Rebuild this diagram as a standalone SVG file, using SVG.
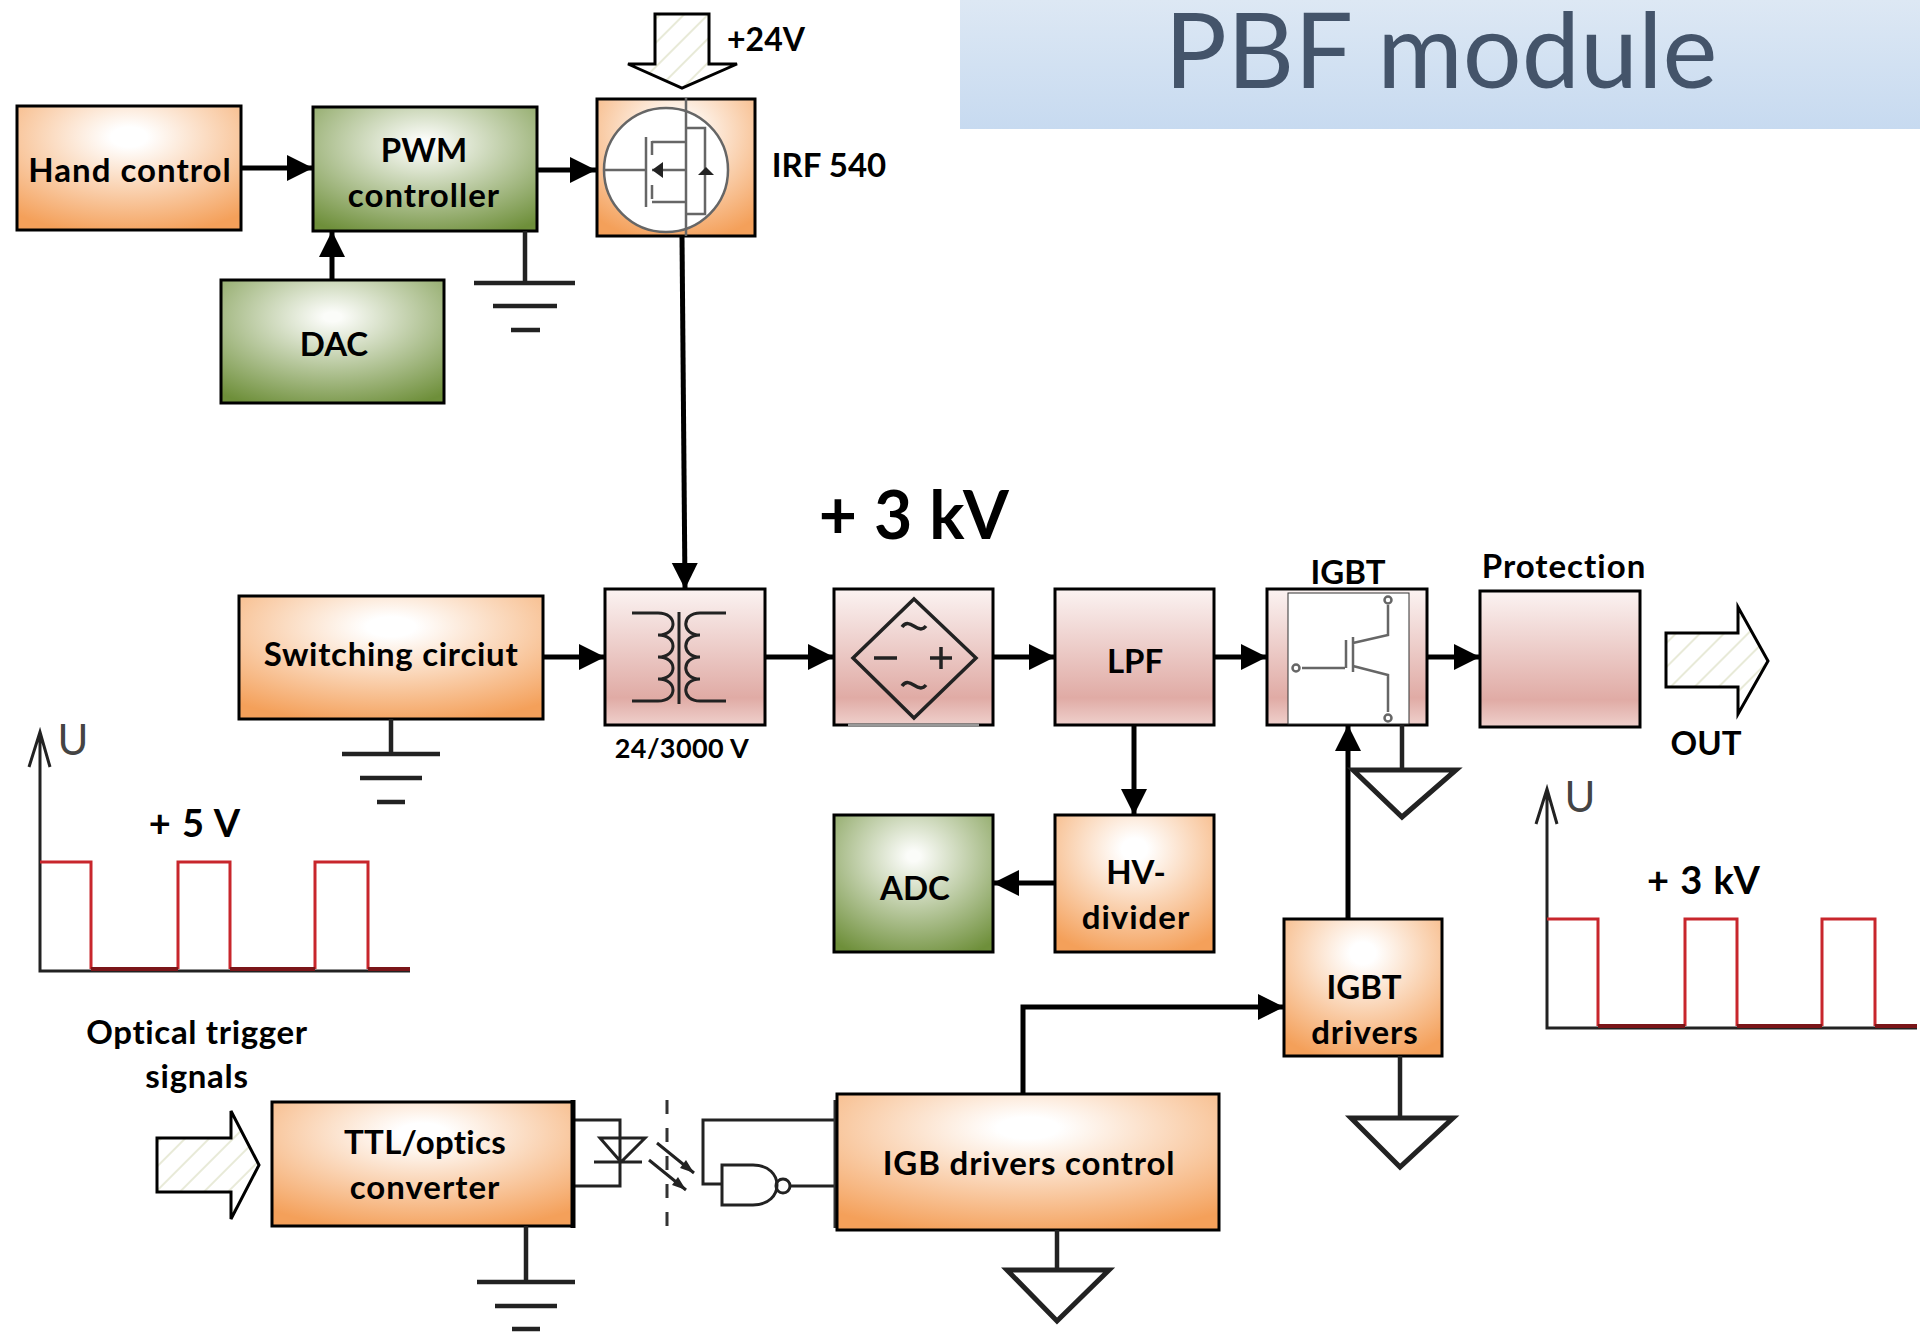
<svg xmlns="http://www.w3.org/2000/svg" width="1920" height="1335" viewBox="0 0 1920 1335">
<style>
text{font-family:"Lato","Carlito","Liberation Sans",sans-serif;font-weight:700;fill:#000;text-anchor:middle}
.t{font-size:33px}
.l{letter-spacing:1px}
.box{stroke:#000;stroke-width:3}
.or{fill:url(#or)}.gr{fill:url(#gr)}.re{fill:url(#re)}
.c{fill:none;stroke:#000;stroke-width:5}
.ca{fill:none;stroke:#000;stroke-width:5;marker-end:url(#ah)}
.g{fill:none;stroke:#222;stroke-width:4.5}
.tri{fill:#fff;stroke:#222;stroke-width:5}
.ic{fill:none;stroke:#666;stroke-width:2.5}
.bk{fill:none;stroke:#222;stroke-width:3}
.big{fill:url(#ht);stroke:#000;stroke-width:3}
.ax{fill:none;stroke:#222;stroke-width:3}
.wv{fill:none;stroke:#c8262c;stroke-width:3}
.lo{fill:none;stroke:#7a1518;stroke-width:4}
.u{font-family:"Lato",sans-serif;font-weight:400;font-size:42px;fill:#444}
</style>
<defs>
<radialGradient id="or" cx=".5" cy=".25" r=".8"><stop offset=".1" stop-color="#fff"/><stop offset="1" stop-color="#f4a05a"/></radialGradient>
<radialGradient id="gr" cx=".5" cy=".3" r=".8"><stop offset=".05" stop-color="#fbfcf9"/><stop offset="1" stop-color="#6e8f3a"/></radialGradient>
<linearGradient id="re" x1="0" y1="0" x2="0" y2="1"><stop offset="0" stop-color="#fbf3f2"/><stop offset=".8" stop-color="#e0aba5"/><stop offset="1" stop-color="#efd0cc"/></linearGradient>
<linearGradient id="ti" x1="0" y1="0" x2="0" y2="1"><stop offset="0" stop-color="#dde8f4"/><stop offset="1" stop-color="#c7daf0"/></linearGradient>
<pattern id="ht" width="17" height="17" patternUnits="userSpaceOnUse" patternTransform="rotate(45)"><rect width="17" height="17" fill="#fff"/><rect width="2" height="17" fill="#e8ead8"/></pattern>
<marker id="ah" markerUnits="userSpaceOnUse" markerWidth="27" markerHeight="27" refX="26" refY="13" orient="auto"><path d="M0 0L26 13L0 26z" fill="#000"/></marker>
</defs>

<g id="title"><rect x="960" y="0" width="960" height="129" fill="url(#ti)"/><text x="1441" y="88" style="font-size:104px;font-weight:400;fill:#44546a">PBF module</text></g>

<g id="connectors">
<path class="ca" d="M241 168H313"/>
<path class="ca" d="M537 170H596"/>
<path class="ca" d="M332 280V231"/>
<path class="ca" d="M682 236L685 589"/>
<path class="ca" d="M543 657H605"/>
<path class="ca" d="M765 657H834"/>
<path class="ca" d="M993 657H1055"/>
<path class="ca" d="M1214 657H1267"/>
<path class="ca" d="M1427 657H1480"/>
<path class="ca" d="M1134 725V815"/>
<path class="ca" d="M1055 883H993"/>
<path class="ca" d="M1348 919V725"/>
<path class="ca" d="M1023 1094V1007H1284"/>
</g>

<g id="hand-control"><rect class="box or" x="17" y="106" width="224" height="124"/><text class="t l" x="130" y="182">Hand control</text></g>
<g id="pwm"><rect class="box gr" x="313" y="107" width="224" height="124"/><text class="t" x="424" y="162">PWM</text><text class="t l" x="424" y="207">controller</text></g>
<g id="dac"><rect class="box gr" x="221" y="280" width="223" height="123"/><text class="t" x="334" y="356">DAC</text></g>
<g id="irf540"><rect class="box or" x="597" y="99" width="158" height="137"/>
<circle class="ic" cx="666" cy="170" r="62" style="fill:#fff"/>
<path class="ic" d="M604 170H646M646 137V207M652 141V155M652 185V199M652 142H686M652 170H686M652 202H686M686 98V236M686 128H705V214H686"/>
<path d="M652 170L663 162V178zM698 175H714L706 167z" fill="#222"/></g>
<g id="plus24"><path class="big" d="M655 14H709V64H737L682 88L628 64H655z"/><text x="766" y="51" style="font-size:32px">+24V</text></g>
<text x="829" y="177" class="t">IRF 540</text>
<g id="gnd1"><path class="g" d="M525 231V283M474 283H575M493 306H557M511 330H540"/></g>
<text x="914" y="539" style="font-size:66px;letter-spacing:.5px">+ 3 kV</text>

<g id="switching"><rect class="box or" x="239" y="596" width="304" height="123"/><text class="t" x="391" y="666" style="letter-spacing:.7px">Switching circiut</text></g>
<g id="gnd2"><path class="g" d="M391 719V754M342 754H440M360 778H422M377 802H405"/></g>
<g id="transformer"><rect class="box re" x="605" y="589" width="160" height="136"/>
<path class="bk" d="M632 613H658C678 613 678 635 658 635C678 635 678 657 658 657C678 657 678 679 658 679C678 679 678 701 658 701H632M679 612V704M726 613H700C681 613 681 635 700 635C681 635 681 657 700 657C681 657 681 679 700 679C681 679 681 701 700 701H726"/></g>
<text x="682" y="758" style="font-size:27px;letter-spacing:.4px">24/3000 V</text>
<g id="rectifier"><rect class="box re" x="834" y="589" width="159" height="136"/><path d="M848 725H979" stroke="#999" stroke-width="3"/>
<path d="M914 599L976 658L914 718L853 658zM874 658H897M930 658H952M941 647V669M902 627C910 616 918 636 926 626M902 686C910 675 918 695 926 685" fill="none" stroke="#222" stroke-width="3.5"/></g>
<g id="lpf"><rect class="box re" x="1055" y="589" width="159" height="136"/><text class="t" x="1135" y="673">LPF</text></g>
<g id="igbt"><rect class="box re" x="1267" y="589" width="160" height="136"/><rect x="1288" y="593" width="121" height="131" fill="#fff" stroke="#333" stroke-width="1"/>
<path class="ic" d="M1302 668H1345M1346 640V668M1353 637V672M1353 643L1388 635V605M1353 666L1388 675V712"/><circle class="ic" cx="1296" cy="668" r="3.5"/><circle class="ic" cx="1388" cy="600" r="3.5"/><circle class="ic" cx="1388" cy="718" r="3.5"/></g>
<text x="1348" y="584" class="t">IGBT</text>
<g id="protection"><rect class="box re" x="1480" y="591" width="160" height="136"/></g>
<text x="1564" y="578" class="t l">Protection</text>
<g id="out"><path class="big" d="M1666 633H1738V607L1768 661L1738 714V687H1666z"/></g>
<text x="1706" y="755" class="t">OUT</text>
<g id="gnd3"><path class="g" d="M1402 725V770"/><path class="tri" d="M1353 770H1456L1402 817z"/></g>
<g id="hv-divider"><rect class="box or" x="1055" y="815" width="159" height="137"/><text class="t" x="1136" y="884">HV-</text><text class="t l" x="1136" y="929">divider</text></g>
<g id="adc"><rect class="box gr" x="834" y="815" width="159" height="137"/><text class="t" x="915" y="900">ADC</text></g>
<g id="igbt-drivers"><rect class="box or" x="1284" y="919" width="158" height="137"/><text class="t" x="1364" y="999">IGBT</text><text class="t l" x="1365" y="1044">drivers</text></g>
<g id="gnd4"><path class="g" d="M1400 1056V1118"/><path class="tri" d="M1351 1118H1453L1400 1167z"/></g>

<g id="wave1"><path class="ax" d="M40 732V971H410M29 767L40 732L50 767"/><path class="wv" d="M40 862H91V969M178 969V862H230V969M315 969V862H368V969"/><path class="lo" d="M91 969H178M230 969H315M368 969H410"/><text class="u" x="73" y="755">U</text><text x="195" y="837" style="font-size:38px;letter-spacing:1px">+ 5 V</text></g>
<g id="wave2"><path class="ax" d="M1547 789V1028H1917M1536 824L1547 789L1557 824"/><path class="wv" d="M1547 919H1598V1026M1685 1026V919H1737V1026M1822 1026V919H1875V1026"/><path class="lo" d="M1598 1026H1685M1737 1026H1822M1875 1026H1917"/><text class="u" x="1580" y="812">U</text><text x="1704" y="894" style="font-size:38px;letter-spacing:1px">+ 3 kV</text></g>

<text x="197" y="1044" class="t" style="letter-spacing:.65px">Optical trigger</text><text x="197" y="1088" class="t" style="letter-spacing:.7px">signals</text>
<g id="in"><path class="big" d="M157 1138H231V1111L259 1165L231 1219V1192H157z"/></g>
<g id="ttl"><rect class="box or" x="272" y="1102" width="301" height="124"/><text class="t" x="425" y="1154" style="letter-spacing:.3px">TTL/optics</text><text class="t l" x="425" y="1199">converter</text></g>
<g id="gnd5"><path class="g" d="M526 1226V1282M477 1282H575M495 1306H557M512 1329H540"/></g>
<g id="opto"><path class="bk" d="M573 1120H620V1186H573M600 1138H645L621 1162zM594 1162H642M657 1143L694 1173M649 1160L686 1190M835 1120H703V1184H722M722 1165H753C785 1165 785 1205 753 1205H722zM790 1186H835"/><circle class="bk" cx="783" cy="1186" r="7"/><path d="M694 1173L680 1168L686 1160zM686 1190L672 1185L678 1177z" fill="#222"/><path d="M667 1100V1228" fill="none" stroke="#333" stroke-width="3" stroke-dasharray="14 14"/><path d="M573 1100V1228" stroke="#000" stroke-width="5"/><path d="M835 1100V1228" stroke="#333" stroke-width="3"/></g>
<g id="igb-control"><rect class="box or" x="837" y="1094" width="382" height="136"/><text class="t" x="1029" y="1175" style="letter-spacing:.85px">IGB drivers control</text></g>
<g id="gnd6"><path class="g" d="M1057 1230V1270"/><path class="tri" d="M1007 1270H1109L1057 1321z"/></g>
</svg>
